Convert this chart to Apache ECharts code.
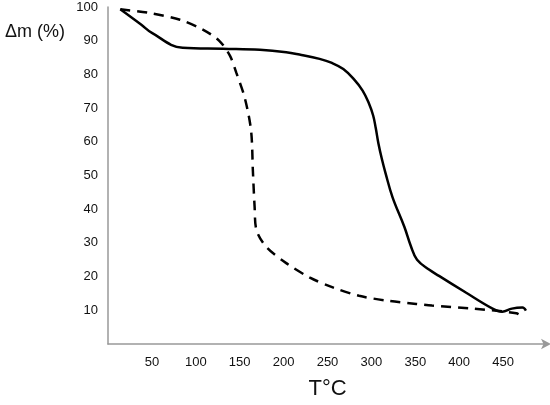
<!DOCTYPE html>
<html>
<head>
<meta charset="utf-8">
<script src="https://cdn.jsdelivr.net/npm/echarts@6/dist/echarts.min.js"></script>
<style>
  html, body { margin: 0; padding: 0; background: #fff; }
  #chart { width: 550px; height: 405px; }
</style>
</head>
<body>
<div id="chart"></div>
<script>
// solid curve (temperature, mass %)
var solidT = [14, 38, 50, 85, 131, 173, 203, 218, 241, 255, 268, 280, 290, 297, 302, 305, 308, 312, 316, 324, 337.5, 345, 352, 366, 377, 408, 438, 449, 460, 472, 476];
var solidM = [99.3, 94.7, 92.3, 87.9, 87.6, 87.3, 86.6, 85.9, 84.6, 83.4, 81.6, 78.6, 75.2, 71.5, 67.8, 64, 59.5, 54.8, 50.8, 43.6, 34.8, 29, 25, 22, 20.2, 15.2, 10.5, 9.6, 10.5, 10.8, 9.9];
// dashed curve
var dashT = [14, 48, 82, 108, 127, 139, 146, 156, 163, 165, 167, 169, 180, 203, 230, 256, 286, 317, 351, 369, 415, 465, 474];
var dashM = [99.3, 98.2, 96.2, 93.3, 89.9, 85.5, 80.6, 72.8, 63.2, 51.5, 40.6, 33.9, 28.9, 24, 19.7, 16.8, 14.3, 12.9, 11.9, 11.4, 10.5, 9.1, 7.6];

function pairs(xs, ys) {
	var ret = [];
	for (var i = 0; i < xs.length; i++) {
		ret.push([xs[i], ys[i]]);
	}
	return ret;
}

var myChart = echarts.init(document.getElementById('chart'));
var option = {
	animation: false,
	title: {
		text: 'Δm (%)',
		left: 0,
		top: 18,
		textStyle: {
			fontFamily: 'Liberation Sans',
			fontSize: 18,
			fontWeight: 'normal',
			color: '#111'
		}
	},
	grid: {
		left: 108,
		right: 2,
		top: 7,
		bottom: 56,
		containLabel: false
	},
	xAxis: {
		type: 'value',
		min: 0,
		max: 500,
		interval: 50,
		name: 'T°C',
		nameLocation: 'middle',
		nameGap: 34,
		nameTextStyle: {
			fontFamily: 'Liberation Sans',
			fontSize: 22,
			color: '#111'
		},
		axisLine: {
			lineStyle: { color: '#999', width: 1.5 },
			symbol: ['none', 'arrow'],
			symbolSize: [8, 10],
			symbolOffset: [0, 4]
		},
		axisTick: { show: false },
		splitLine: { show: false },
		axisLabel: {
			margin: 12,
			fontFamily: 'Liberation Sans',
			fontSize: 13,
			color: '#111',
			formatter: function (v) {
				return (v === 0 || v === 500) ? '' : v;
			}
		}
	},
	yAxis: {
		type: 'value',
		min: 0,
		max: 100,
		interval: 10,
		axisLine: {
			show: true,
			lineStyle: { color: '#999', width: 1.5 }
		},
		axisTick: { show: false },
		splitLine: { show: false },
		axisLabel: {
			margin: 10,
			fontFamily: 'Liberation Sans',
			fontSize: 13,
			color: '#111',
			formatter: function (v) {
				return v === 0 ? '' : v;
			}
		}
	},
	series: [{
			type: 'line',
			data: pairs(solidT, solidM),
			smooth: 0.4,
			showSymbol: false,
			lineStyle: { color: '#000', width: 2.5 }
		},
		{
			type: 'line',
			data: pairs(dashT, dashM),
			smooth: 0.3,
			showSymbol: false,
			lineStyle: { color: '#000', width: 2.5, type: [10, 7] }
		}
	]
};
myChart.setOption(option);
</script>
</body>
</html>
